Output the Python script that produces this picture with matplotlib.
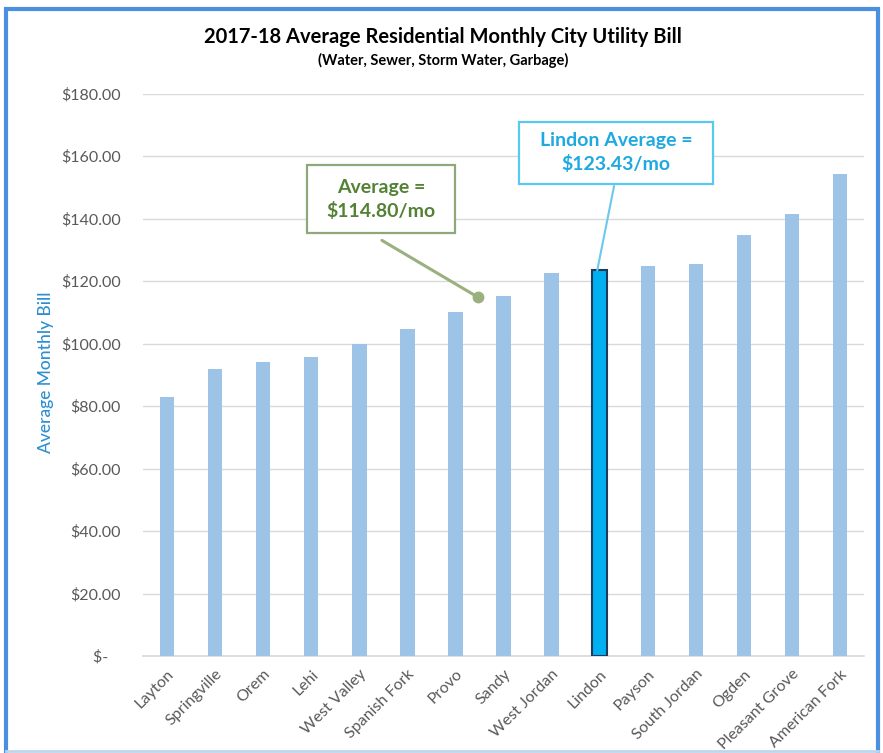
import matplotlib.pyplot as plt
from matplotlib.patches import Rectangle
from matplotlib.lines import Line2D
from matplotlib.ticker import FuncFormatter
import numpy as np

plt.rcParams['font.family'] = ['Lato', 'DejaVu Sans']

# Average monthly bill per city, 2017-18
cities = ['Layton', 'Springville', 'Orem', 'Lehi', 'West Valley', 'Spanish Fork',
          'Provo', 'Sandy', 'West Jordan', 'Lindon', 'Payson', 'South Jordan',
          'Ogden', 'Pleasant Grove', 'American Fork']
bills = [82.8, 92.0, 94.0, 95.8, 100.0, 104.5, 110.0, 115.1, 122.5, 123.43,
         124.8, 125.4, 134.8, 141.6, 154.4]
average_bill = 114.80
lindon_bill = 123.43
highlight = 'Lindon'

fig = plt.figure(figsize=(8.83, 7.53), dpi=100)
ax = fig.add_axes([0.162, 0.1288, 0.8165, 0.747])

x = np.arange(len(cities))
colors = ['#00b0f0' if c == highlight else '#9dc3e6' for c in cities]
edges = ['#1f3a5a' if c == highlight else 'none' for c in cities]
lws = [1.5 if c == highlight else 0 for c in cities]
ax.bar(x, bills, width=0.3, color=colors, edgecolor=edges, linewidth=lws, zorder=3)

ax.set_xlim(-0.5, len(cities) - 0.5)
ax.set_ylim(0, 180)
ax.set_yticks(np.arange(0, 181, 20))
ax.yaxis.set_major_formatter(FuncFormatter(lambda v, p: '$-   ' if v == 0 else f'${v:.2f}'))
ax.grid(axis='y', color='#d9d9d9', linewidth=1, zorder=0)
for s in ['top', 'right', 'left']:
    ax.spines[s].set_visible(False)
ax.spines['bottom'].set_color('#d9d9d9')
ax.spines['bottom'].set_linewidth(1.2)
ax.tick_params(axis='both', length=0, colors='#595959', labelsize=11.5)
ax.tick_params(axis='y', pad=16)
ax.set_xticks(x)
ax.set_xticklabels(cities, rotation=45, ha='right', rotation_mode='anchor')
ax.tick_params(axis='x', pad=8)

ax.set_ylabel('Average Monthly Bill', color='#2e8fd0', fontsize=12.5, fontweight='medium')
ax.yaxis.set_label_coords(-0.123, 0.505)

fig.text(0.502, 0.951, '2017-18 Average Residential Monthly City Utility Bill',
         ha='center', va='center', fontsize=14.5, fontweight='bold', color='#000000')
fig.text(0.502, 0.920, '(Water, Sewer, Storm Water, Garbage)',
         ha='center', va='center', fontsize=10.5, fontweight='bold', color='#000000')


def callout(text, center, box, target, text_color, edge_color, line_color, line_w, start):
    # box = (x0, y0, x1, y1) in data units; line runs from start to target
    x0, y0, x1, y1 = box
    ax.plot([start[0], target[0]], [start[1], target[1]], color=line_color,
            lw=line_w, solid_capstyle='round', zorder=5)
    ax.add_patch(Rectangle((x0, y0), x1 - x0, y1 - y0, fc='white', ec=edge_color,
                           lw=1.6, zorder=6))
    ax.text(center[0], center[1], text, ha='center', va='center', fontsize=14,
            fontweight='bold', color=text_color, linespacing=1.4, zorder=7)


# overall average callout
ax.plot(6.47, average_bill, 'o', color='#9bb07f', markersize=7.5, zorder=5)
callout(f'Average =\n${average_bill:.2f}/mo', (4.45, 146.2), (2.91, 135.4, 5.99, 157.1),
        (6.47, average_bill), '#548235', '#8fa77a', '#9bb07f', 2.2, (4.47, 133.0))

# Lindon callout
callout(f'Lindon Average =\n${lindon_bill:.2f}/mo', (9.34, 161.0), (7.32, 151.0, 11.36, 170.9),
        (8.95, lindon_bill), '#1fa9e1', '#5bc8ef', '#6cc8ee', 1.5, (9.30, 150.4))

# frame: dark blue on top and sides, pale along the bottom edge
W, H = 883, 753
fx0, fx1, fy_top, fy_bot = 6 / W, 878 / W, 1 - 9 / H, 1 - 751 / H
fig.lines.append(Line2D([fx0, fx0, fx1, fx1], [fy_bot, fy_top, fy_top, fy_bot],
                        transform=fig.transFigure, color='#4a8fe0', lw=3,
                        solid_joinstyle='miter'))
fig.lines.append(Line2D([fx0, fx1], [fy_bot, fy_bot], transform=fig.transFigure,
                        color='#bcd6f0', lw=2))

fig.savefig('out.png', dpi=100)
